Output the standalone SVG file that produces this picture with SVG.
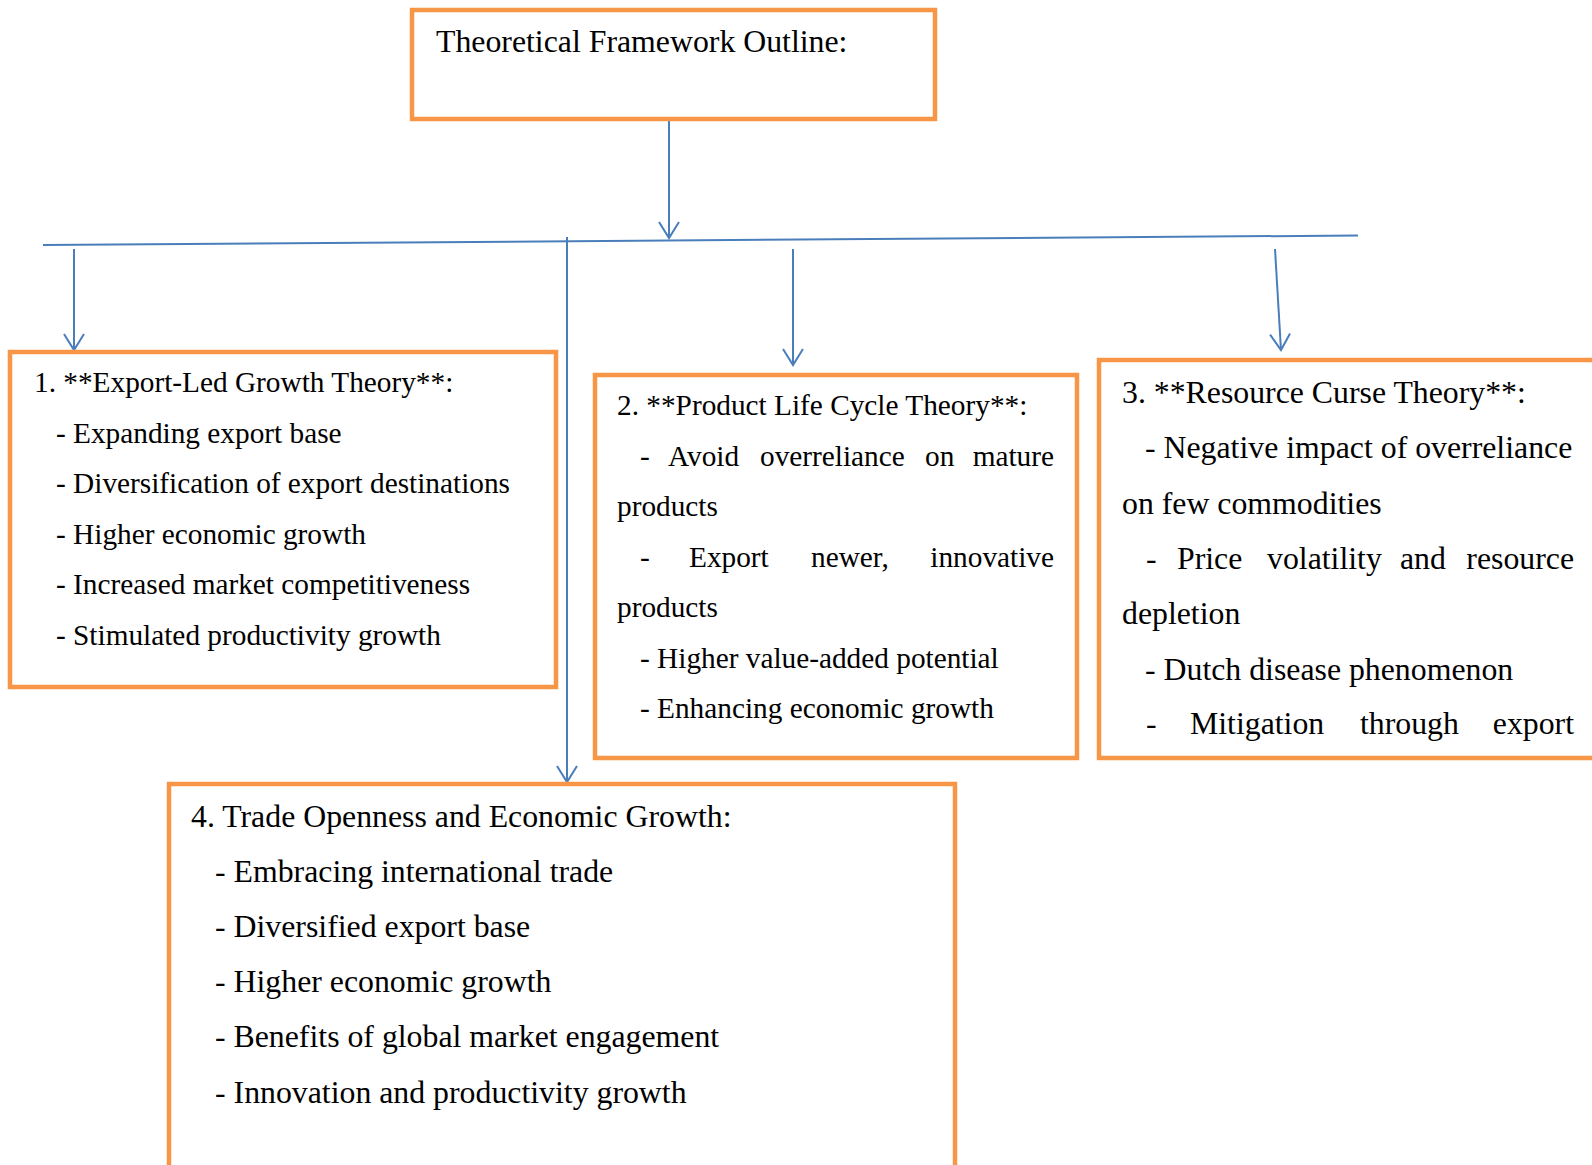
<svg xmlns="http://www.w3.org/2000/svg" width="1592" height="1165" viewBox="0 0 1592 1165">
<style>
.box{fill:#fff;stroke:#F79646;stroke-width:4.5}
.t{font-family:"Liberation Serif","Times New Roman",serif;fill:#000}
.s{font-size:29.3px}
.l{font-size:31.8px}
.c{fill:none;stroke:#4A7EBB;stroke-width:2}
</style>
<defs>
<marker id="ah" viewBox="-2 -12 20 24" refX="16" refY="0" markerWidth="20" markerHeight="24" markerUnits="userSpaceOnUse" orient="auto">
<path d="M0,-10 L16,0 L0,10" fill="none" stroke="#4A7EBB" stroke-width="2"/>
</marker>
</defs>
<rect width="1592" height="1165" fill="#fff"/>
<g id="connectors">
<line class="c" x1="669" y1="119" x2="669" y2="238" marker-end="url(#ah)"/>
<line class="c" x1="43" y1="245" x2="1358" y2="235.5"/>
<line class="c" x1="567" y1="237" x2="567" y2="782" marker-end="url(#ah)"/>
<line class="c" x1="74" y1="249" x2="74" y2="350" marker-end="url(#ah)"/>
<line class="c" x1="793" y1="249" x2="793" y2="365" marker-end="url(#ah)"/>
<line class="c" x1="1275" y1="249" x2="1281" y2="350" marker-end="url(#ah)"/>
</g>
<g id="node-title">
<rect class="box" x="412" y="10" width="523" height="109"/>
<text class="t l" x="436" y="52">Theoretical Framework Outline:</text>
</g>
<g id="node-1">
<rect class="box" x="10" y="352" width="546" height="335"/>
<text class="t s" x="34" y="392">1. **Export-Led Growth Theory**:</text>
<text class="t s" x="56" y="443">- Expanding export base</text>
<text class="t s" x="56" y="493">- Diversification of export destinations</text>
<text class="t s" x="56" y="544">- Higher economic growth</text>
<text class="t s" x="56" y="594">- Increased market competitiveness</text>
<text class="t s" x="56" y="645">- Stimulated productivity growth</text>
</g>
<g id="node-2">
<rect class="box" x="595" y="375" width="482" height="383"/>
<text class="t s" x="617" y="415">2. **Product Life Cycle Theory**:</text>
<text class="t s" y="466"><tspan x="640">-</tspan><tspan x="668">Avoid</tspan><tspan x="760">overreliance</tspan><tspan x="925">on</tspan></text>
<text class="t s" x="1054" y="466" text-anchor="end">mature</text>
<text class="t s" x="617" y="516">products</text>
<text class="t s" y="567"><tspan x="640">-</tspan><tspan x="689">Export</tspan><tspan x="811">newer,</tspan></text>
<text class="t s" x="1054" y="567" text-anchor="end">innovative</text>
<text class="t s" x="617" y="617">products</text>
<text class="t s" x="640" y="668">- Higher value-added potential</text>
<text class="t s" x="640" y="718">- Enhancing economic growth</text>
</g>
<g id="node-3">
<rect class="box" x="1099" y="360" width="520" height="398"/>
<text class="t l" x="1122" y="403">3. **Resource Curse Theory**:</text>
<text class="t l" x="1145" y="458">- Negative impact of overreliance</text>
<text class="t l" x="1122" y="514">on few commodities</text>
<text class="t l" y="569"><tspan x="1146">-</tspan><tspan x="1177">Price</tspan><tspan x="1267">volatility</tspan><tspan x="1400">and</tspan></text>
<text class="t l" x="1574" y="569" text-anchor="end">resource</text>
<text class="t l" x="1122" y="624">depletion</text>
<text class="t l" x="1145" y="680">- Dutch disease phenomenon</text>
<text class="t l" y="734"><tspan x="1146">-</tspan><tspan x="1190">Mitigation</tspan><tspan x="1360">through</tspan></text>
<text class="t l" x="1574" y="734" text-anchor="end">export</text>
</g>
<g id="node-4">
<rect class="box" x="169" y="784" width="786" height="400"/>
<text class="t l" x="191" y="827">4. Trade Openness and Economic Growth:</text>
<text class="t l" x="215" y="882">- Embracing international trade</text>
<text class="t l" x="215" y="937">- Diversified export base</text>
<text class="t l" x="215" y="992">- Higher economic growth</text>
<text class="t l" x="215" y="1047">- Benefits of global market engagement</text>
<text class="t l" x="215" y="1103">- Innovation and productivity growth</text>
</g>
</svg>
